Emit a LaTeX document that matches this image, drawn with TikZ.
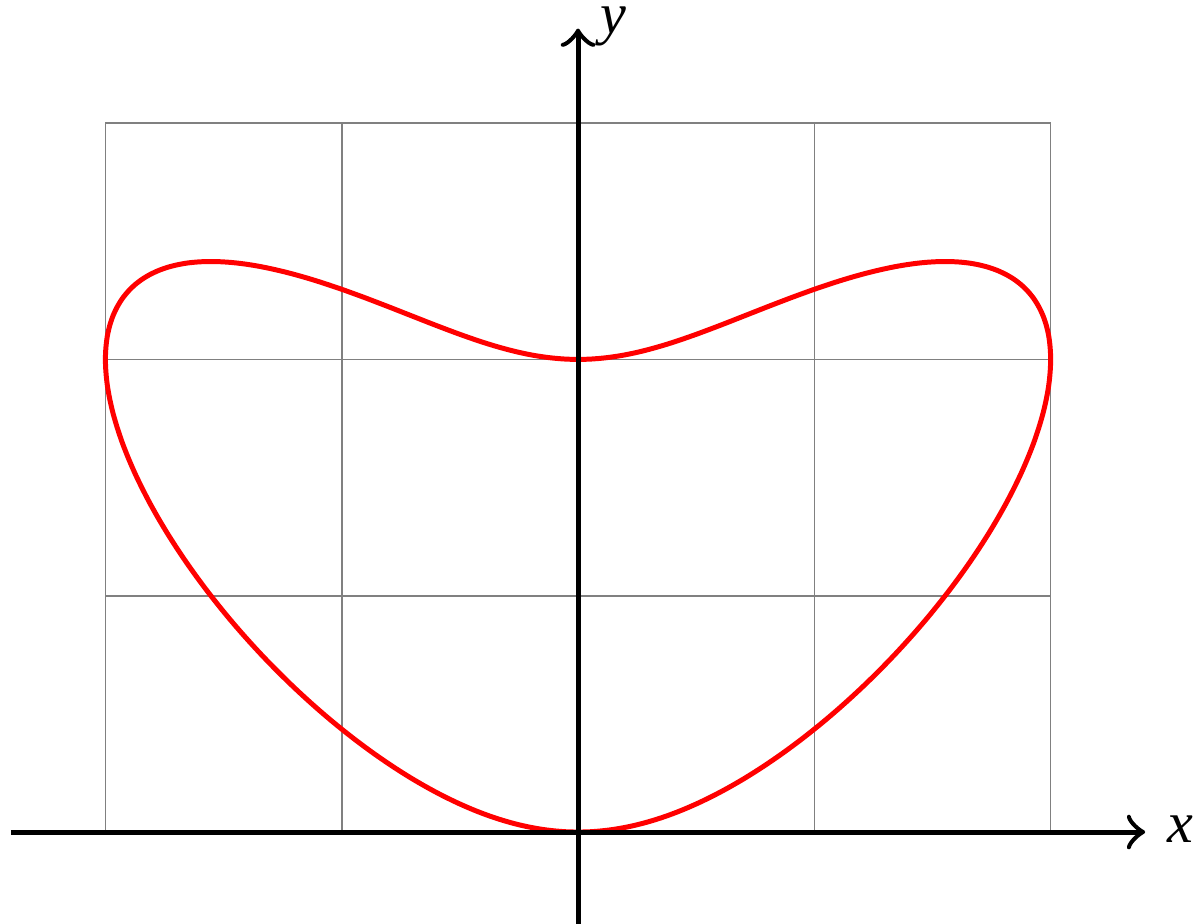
\documentclass[tikz,border=0pt]{standalone}
\usepackage{fontspec}
\setmainfont{Liberation Serif}
\begin{document}
\begin{tikzpicture}[>=to]
      \tikzset{axis/.style={semithick, ->}, curve/.style={red, semithick},
        axislabel/.style={anchor=base west, inner xsep=2.4pt, inner ysep=0.3pt, font=\scriptsize\itshape}}
      \useasboundingbox (-2.446,-0.389) rectangle (2.615,3.521);
      \draw[gray, very thin] (-2,0) grid (2,3);
      \draw[curve] plot[domain=0:360, samples=241, smooth, variable=\t]
        ({2*sin(\t)/(1+cos(\t)^2)}, {2*(1-cos(\t))/(1+cos(\t)^2)});
      \coordinate (xstart) at (-2.4,0);
      \coordinate (xend) at (2.4,0);
      \coordinate (ystart) at (0,-0.4);
      \coordinate (yend) at (0,3.4);
      \draw[axis] (xstart) -- (xend) node[axislabel, yshift=-1.3pt] (xlabel) {x};
      \draw[axis] (ystart) -- (yend) node[axislabel, yshift=-0.6pt] (ylabel) {y};
    \end{tikzpicture}
\end{document}
